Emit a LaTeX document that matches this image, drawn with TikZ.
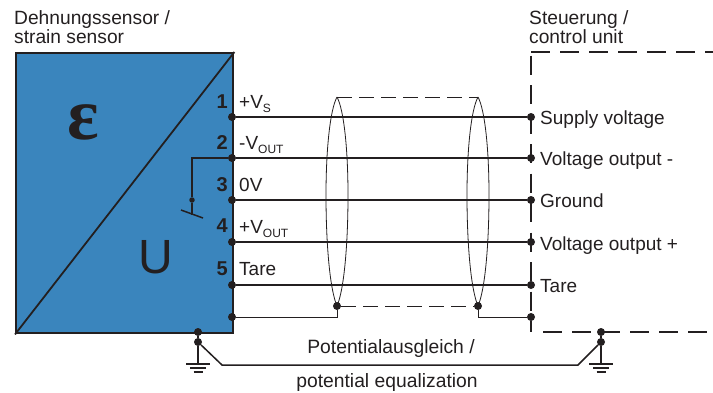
\documentclass[tikz,border=0pt]{standalone}
\usepackage{fontspec}
\setmainfont{Liberation Sans}
\newfontfamily\greekserif{Liberation Serif}
\usetikzlibrary{positioning,calc}

\definecolor{sensorblue}{RGB}{58,133,189}
\definecolor{inkdark}{RGB}{35,31,32}

\newcommand{\lbl}[2]{#1\raisebox{-.45ex}{\fontsize{12}{12}\selectfont #2}}

\tikzset{
  every node/.style={text=inkdark},
  wire/.style={draw=inkdark, line width=1.5pt},
  thin wire/.style={draw=inkdark, line width=0.8pt},
  long dash/.style={draw=inkdark, line width=1.5pt, dash pattern=on 19pt off 10pt},
  term/.style={circle, fill=inkdark, inner sep=0pt, minimum size=8pt},
  small term/.style={circle, fill=inkdark, inner sep=0pt, minimum size=5.5pt},
  label text/.style={font=\fontsize{19}{21}\selectfont, inner sep=0pt, anchor=base west},
  pin number/.style={font=\bfseries\fontsize{20}{22}\selectfont, inner sep=0pt, anchor=base east},
  title text/.style={font=\fontsize{19.2}{19.2}\selectfont, inner sep=0pt, anchor=base west, align=left},
}

\begin{document}
\begin{tikzpicture}[x=1pt, y=-1pt]

\useasboundingbox (0,0) rectangle (713,392);

% sensor box
\node [draw=inkdark, line width=2.4pt, fill=sensorblue, minimum width=217pt, minimum height=280pt, inner sep=0pt, anchor=north west] (sensor) at (15,52) {};
\draw [inkdark, line width=1.8pt] (sensor.south west) -- (sensor.north east);

\node [font=\greekserif\bfseries\fontsize{74}{74}\selectfont, inner sep=0pt] (eps) at (83,122) {ε};
\node [font=\fontsize{48}{48}\selectfont, inner sep=0pt] (uu) at (155.5,257) {U};

% control unit
\coordinate (ctrl-tl) at (531,52);
\coordinate (ctrl-tr) at (713,52);
\coordinate (ctrl-vt) at (531,55.5);
\coordinate (ctrl-bl) at (531,332);
\coordinate (ctrl-bs) at (543,332);
\coordinate (ctrl-br) at (713,332);
\draw [long dash] (ctrl-tl) -- (ctrl-tr);
\draw [long dash, dash pattern=on 19pt off 10.5pt] (ctrl-vt) -- (ctrl-bl);
\draw [long dash] (ctrl-bs) -- (ctrl-br);

% terminals
\foreach \m/\y in {1/117,2/158,3/200,4/242,5/285,6/317} {
  \node [term] (left-\m) at (232,\y) {};
  \node [term] (right-\m) at (531,\y) {};
}

\foreach \m in {1,...,5}
  \draw [wire] (left-\m) -- (right-\m);

% pin numbers
\foreach \m/\y in {1/108,2/149,3/191,4/232,5/275}
  \node [pin number] (pin-\m) at (228,\y) {\m};

\node [label text] (sig-1) at (239,108) {\lbl{+V}{S}};
\node [label text] (sig-2) at (239,149) {\lbl{-V}{OUT}};
\node [label text] (sig-3) at (239,191) {0V};
\node [label text] (sig-4) at (239,233) {\lbl{+V}{OUT}};
\node [label text] (sig-5) at (239,275) {Tare};

\foreach \m/\l/\y in {1/Supply voltage/124,2/Voltage output -/165,3/Ground/207,4/Voltage output +/250,5/Tare/292}
  \node [label text] (ctrl-\m) at (540,\y) {\l};

% titles
\node [title text] (title-sensor) at (14,24) {Dehnungssensor /};
\node [title text] (title-sensor2) at (14,43) {strain sensor};
\node [title text] (title-ctrl) at (529,24) {Steuerung /};
\node [title text] (title-ctrl2) at (529,43) {control unit};

% bridge and tare switch
\node [small term] (tare) at (192,200) {};
\coordinate (bridge) at (192,158);
\coordinate (sw-a) at (181,210);
\coordinate (sw-b) at (203,218);
\coordinate (sw-c) at (192,215);
\draw [wire] (left-2) -- (bridge) -- (tare) -- (sw-c);
\draw [wire] (sw-a) -- (sw-b);

% shields
\foreach \m/\x in {a/337,b/478} {
  \coordinate (top-\m) at (\x,97);
  \node [term] (bot-\m) at (\x,306) {};
  \draw [thin wire] (top-\m) .. controls (\x+7,110) and (\x+11,150) .. (\x+11,195)
    .. controls (\x+11,245) and (\x+7,290) .. (bot-\m.center)
    .. controls (\x-7,290) and (\x-11,245) .. (\x-11,195)
    .. controls (\x-11,150) and (\x-7,110) .. (top-\m);
}
\draw [thin wire, dash pattern=on 15pt off 7pt] (top-a) -- (top-b);
\draw [thin wire, dash pattern=on 15pt off 7pt] (bot-a) -- (bot-b);
\draw [thin wire] (left-6) -| (bot-a);
\draw [thin wire] (right-6) -| (bot-b);

% potential equalization
\node [term] (earth-l1) at (198,332) {};
\node [term] (earth-l2) at (198,342) {};
\node [term] (earth-r1) at (601,332) {};
\node [term] (earth-r2) at (601,342) {};
\draw [wire] (earth-l1) -- (earth-l2);
\draw [wire] (earth-r1) -- (earth-r2);
\coordinate (eq-l) at (222,365);
\coordinate (eq-r) at (578,365);
\draw [wire] (earth-l2) -- (eq-l) -- (eq-r) -- (earth-r2);

\foreach \m/\x in {l/198,r/601} {
  \coordinate (gnd-\m) at (\x,364);
  \draw [wire] (earth-\m2) -- (gnd-\m);
  \draw [wire] ($(gnd-\m)+(-12,0)$) -- ($(gnd-\m)+(12,0)$);
  \draw [wire] ($(gnd-\m)+(-8,4)$) -- ($(gnd-\m)+(8,4)$);
  \draw [wire] ($(gnd-\m)+(-4.5,8)$) -- ($(gnd-\m)+(4.5,8)$);
}

\node [font=\fontsize{19.3}{21}\selectfont, inner sep=0pt, anchor=base] (eq-de) at (391,353) {Potentialausgleich /};
\node [font=\fontsize{19.3}{21}\selectfont, inner sep=0pt, anchor=base] (eq-en) at (387,387) {potential equalization};

\end{tikzpicture}
\end{document}
